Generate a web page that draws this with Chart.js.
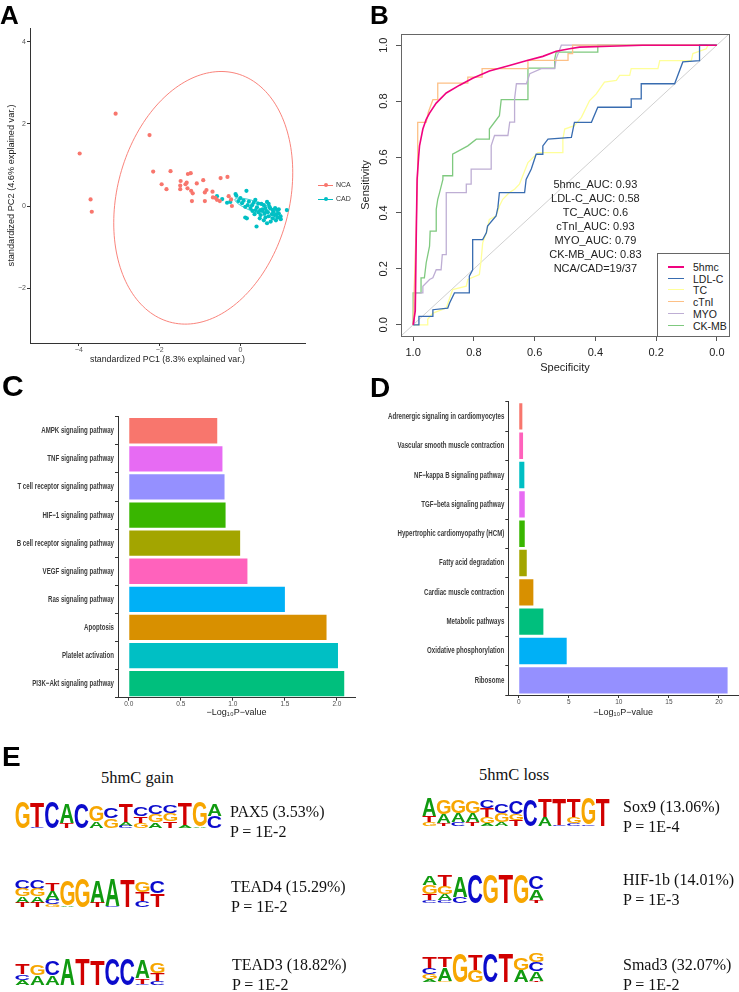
<!DOCTYPE html>
<html>
<head>
<meta charset="utf-8">
<script src="https://cdn.jsdelivr.net/npm/chart.js@4.4.1/dist/chart.umd.min.js"></script>
<style>
  body { margin: 0; width: 739px; height: 992px; position: relative; background: #fff; overflow: hidden; font-family: 'Liberation Sans', Arial, sans-serif; }
  canvas, .abs { position: absolute; }
  .tag { position: absolute; font: bold 26px 'Liberation Sans', Arial, sans-serif; line-height: 26px; color: #000; }
  .serif { position: absolute; font-family: 'Liberation Serif', 'Times New Roman', serif; font-size: 16px; line-height: 20px; color: #111; white-space: nowrap; }
  .lgA { position: absolute; font-size: 7px; color: #333; line-height: 8px; }
  #rocLegend { position: absolute; left: 657px; top: 253px; width: 71px; height: 82px; border: 1px solid #666; background: #fff; font-size: 10.5px; color: #222; }
  #rocLegend div { position: absolute; left: 35px; line-height: 12px; }
  #rocLegend span { position: absolute; left: 10px; width: 16px; height: 0; }
</style>
</head>
<body>
<canvas id="pca" width="370" height="370" style="left:0;top:0"></canvas>
<canvas id="roc" width="384" height="380" style="left:355px;top:0"></canvas>
<canvas id="keggGain" width="370" height="345" style="left:0;top:380px"></canvas>
<canvas id="keggLoss" width="369" height="345" style="left:370px;top:380px"></canvas>
<canvas id="logos" width="739" height="202" style="left:0;top:790px"></canvas>

<div class="tag" style="left:0;top:2px">A</div>
<div class="tag" style="left:370px;top:2px">B</div>
<div class="tag" style="left:2px;top:371px;font-size:30px;line-height:30px">C</div>
<div class="tag" style="left:370px;top:374px;font-size:28px;line-height:28px">D</div>
<div class="tag" style="left:2px;top:743px;font-size:28px;line-height:28px">E</div>

<div id="legendA"></div>
<div id="rocLegend"></div>
<div id="motifText"></div>

<script>
// ---------- A: PCA ----------
const ncaPoints = [
  [-3.98, 1.28], [-3.09, 2.25], [-2.25, 1.73], [-3.71, 0.16], [-3.68, -0.14],
  [-2.16, 0.84], [-1.73, 0.85], [-1.95, 0.53], [-1.83, 0.41], [-1.48, 0.61],
  [-1.49, 0.50], [-1.49, 0.41], [-1.30, 0.78], [-1.23, 0.80], [-1.36, 0.53],
  [-1.33, 0.57], [-1.31, 0.43], [-1.22, 0.37], [-1.18, 0.31], [-1.20, 0.12],
  [-1.08, 0.55], [-0.92, 0.63], [-0.88, 0.33], [-0.84, 0.39], [-0.88, 0.12],
  [-0.69, 0.35], [-0.68, 0.21], [-0.58, 0.15], [-0.49, 0.68], [-0.32, 0.71],
  [-0.51, 0.12], [-0.29, 0.24], [-0.21, 0.00], [-0.23, 0.16], [-0.62, 0.20]
];
const cadPoints = [
  [-0.58, 0.24], [-0.45, 0.17], [-0.33, 0.08], [-0.25, 0.10], [-0.12, 0.29], [-0.10, 0.25],
  [0.00, 0.19], [0.15, 0.37], [0.04, 0.07], [0.12, -0.02], [0.21, 0.11], [0.29, 0.02],
  [0.37, 0.15], [0.41, -0.03], [0.49, -0.10], [0.58, 0.02], [0.66, 0.10], [0.74, -0.06],
  [0.82, -0.14], [0.91, -0.10], [0.95, -0.08], [0.99, -0.26], [1.15, -0.10], [0.40, -0.50],
  [0.66, -0.42], [0.12, -0.28], [0.16, -0.30], [0.30, -0.12], [0.35, -0.20], [0.45, -0.15],
  [0.50, -0.22], [0.55, -0.08], [0.60, -0.18], [0.62, -0.28], [0.68, -0.15], [0.70, -0.25],
  [0.72, -0.02], [0.78, -0.20], [0.80, -0.30], [0.85, -0.22], [0.88, -0.35], [0.92, -0.28],
  [0.95, -0.18], [1.00, -0.32], [0.52, 0.05], [0.44, 0.06], [0.33, 0.08], [0.25, -0.05],
  [0.62, -0.05], [0.75, -0.38], [0.58, -0.35], [0.48, -0.30], [0.38, -0.10], [0.86, -0.05],
  [0.70, 0.05], [0.08, 0.13], [-0.05, 0.12], [0.18, 0.02], [0.54, -0.12], [0.64, -0.12],
  [0.80, -0.10], [0.90, -0.20]
];
const pcaGroups = ['NCA', 'CAD'];
const pcaXTicks = [-4, -2, 0];
const pcaYTicks = [-2, 0, 2, 4];
// group ellipses: centre, semi-axes, tilt of the major axis from vertical (degrees)
const groupEllipses = [
  { cx: -0.92, cy: 0.20, a: 3.14, b: 2.13, tilt: 15.4, color: '#F8766D' },
  { cx: 0.45, cy: -0.05, a: 0.62, b: 0.13, tilt: 110, color: '#00BFC4' }
];

// ---------- B: ROC ----------
const rocNames = ['5hmc', 'LDL-C', 'TC', 'cTnI', 'MYO', 'CK-MB'];
const rocAuc = [0.93, 0.58, 0.6, 0.93, 0.79, 0.83];
const rocRatio = 'NCA/CAD=19/37';
const roc5hmc = [[1,0],[0.993,0.05],[0.99,0.3],[0.987,0.52],[0.982,0.6],[0.979,0.64],[0.968,0.70],[0.957,0.735],[0.946,0.757],[0.924,0.793],[0.891,0.829],[0.847,0.857],[0.804,0.882],[0.749,0.908],[0.683,0.927],[0.628,0.944],[0.573,0.96],[0.529,0.978],[0.485,0.987],[0.452,0.993],[0.353,0.996],[0.245,1],[0,1]];
const rocLdl = [[1,0],[0.981,0],[0.981,0.03],[0.935,0.03],[0.935,0.054],[0.886,0.06],[0.88,0.078],[0.864,0.114],[0.815,0.114],[0.815,0.174],[0.804,0.197],[0.804,0.305],[0.771,0.305],[0.759,0.329],[0.755,0.353],[0.727,0.389],[0.721,0.419],[0.716,0.473],[0.633,0.473],[0.628,0.52],[0.611,0.557],[0.595,0.61],[0.573,0.61],[0.573,0.64],[0.556,0.664],[0.479,0.67],[0.469,0.724],[0.413,0.724],[0.392,0.778],[0.282,0.778],[0.282,0.808],[0.249,0.808],[0.249,0.862],[0.139,0.862],[0.112,0.94],[0.057,0.945],[0.057,1],[0,1]];
const rocTc = [[1,0],[0.952,0],[0.952,0.02],[0.935,0.042],[0.891,0.06],[0.87,0.126],[0.825,0.138],[0.82,0.162],[0.782,0.18],[0.776,0.233],[0.771,0.293],[0.759,0.329],[0.749,0.377],[0.727,0.389],[0.716,0.425],[0.705,0.449],[0.683,0.473],[0.666,0.485],[0.65,0.503],[0.622,0.58],[0.589,0.616],[0.507,0.616],[0.507,0.664],[0.501,0.70],[0.469,0.712],[0.446,0.742],[0.419,0.802],[0.397,0.826],[0.37,0.868],[0.331,0.874],[0.32,0.892],[0.287,0.892],[0.282,0.916],[0.194,0.916],[0.188,0.945],[0.084,0.945],[0.079,0.97],[0.035,0.987],[0.029,1],[0,1]];
const rocCtni = [[1,0],[0.99,0.35],[0.985,0.55],[0.985,0.724],[0.957,0.724],[0.95,0.76],[0.935,0.805],[0.919,0.805],[0.919,0.864],[0.82,0.864],[0.82,0.886],[0.773,0.886],[0.773,0.916],[0.622,0.916],[0.622,0.946],[0.49,0.946],[0.49,0.97],[0.475,0.97],[0.475,1],[0,1]];
const rocMyo = [[1,0],[0.996,0],[0.996,0.06],[0.992,0.114],[0.968,0.114],[0.968,0.138],[0.946,0.162],[0.935,0.168],[0.924,0.197],[0.908,0.197],[0.904,0.251],[0.891,0.251],[0.891,0.473],[0.825,0.473],[0.825,0.503],[0.809,0.503],[0.809,0.557],[0.743,0.557],[0.743,0.641],[0.732,0.677],[0.688,0.677],[0.682,0.725],[0.666,0.725],[0.666,0.808],[0.66,0.862],[0.627,0.862],[0.616,0.898],[0.578,0.916],[0.534,0.916],[0.529,0.952],[0.512,1],[0,1]];
const rocCkmb = [[1,0],[1,0.114],[0.974,0.114],[0.974,0.168],[0.963,0.168],[0.957,0.222],[0.946,0.281],[0.944,0.335],[0.924,0.335],[0.924,0.413],[0.919,0.449],[0.913,0.473],[0.902,0.52],[0.902,0.533],[0.87,0.533],[0.87,0.61],[0.82,0.64],[0.792,0.664],[0.749,0.664],[0.749,0.70],[0.716,0.748],[0.71,0.805],[0.622,0.805],[0.622,0.918],[0.534,0.918],[0.534,0.95],[0.529,0.975],[0.392,0.975],[0.392,1],[0,1]];
const rocTicks = [0, 0.2, 0.4, 0.6, 0.8, 1.0];

// ---------- C / D: KEGG ----------
const gainPathways = ['AMPK signaling pathway', 'TNF signaling pathway', 'T cell receptor signaling pathway', 'HIF\u22121 signaling pathway', 'B cell receptor signaling pathway', 'VEGF signaling pathway', 'Ras signaling pathway', 'Apoptosis', 'Platelet activation', 'PI3K\u2212Akt signaling pathway'];
const gainLogP = [0.85, 0.90, 0.92, 0.93, 1.07, 1.14, 1.50, 1.90, 2.01, 2.07];
const gainTicks = [0, 0.5, 1.0, 1.5, 2.0];
const lossPathways = ['Adrenergic signaling in cardiomyocytes', 'Vascular smooth muscle contraction', 'NF\u2212kappa B signaling pathway', 'TGF\u2212beta signaling pathway', 'Hypertrophic cardiomyopathy (HCM)', 'Fatty acid degradation', 'Cardiac muscle contraction', 'Metabolic pathways', 'Oxidative phosphorylation', 'Ribosome'];
const lossLogP = [0.36, 0.43, 0.56, 0.60, 0.60, 0.80, 1.46, 2.46, 4.79, 20.86];
const lossTicks = [0, 5, 10, 15, 20];

// ---------- E: motifs ----------
const motifGain = ['PAX5 (3.53%)', 'TEAD4 (15.29%)', 'TEAD3 (18.82%)'];
const motifGainP = ['1E-2', '1E-2', '1E-2'];
const motifLoss = ['Sox9 (13.06%)', 'HIF-1b (14.01%)', 'Smad3 (32.07%)'];
const motifLossP = ['1E-4', '1E-3', '1E-2'];
// letter stacks per column, top to bottom, [base, share of full height]
const logoPax5 = [[['G',.95]],[['T',.9],['C',.05]],[['C',.95]],[['A',.72],['T',.18]],[['C',.92]],[['G',.6],['A',.25]],[['C',.4],['G',.35]],[['T',.65],['A',.15],['C',.08]],[['C',.35],['T',.25],['G',.2]],[['C',.35],['G',.3],['A',.2]],[['C',.3],['G',.3],['T',.25]],[['T',.8],['A',.1]],[['G',.9],['A',.05]],[['A',.45],['C',.45]]];
const logoTead4 = [[['C',.3],['G',.25],['A',.2],['T',.15]],[['C',.3],['G',.25],['A',.2],['T',.15]],[['T',.25],['A',.3],['C',.15],['G',.1]],[['G',.85],['A',.05]],[['G',.95]],[['A',.75],['T',.15]],[['A',.9],['C',.05]],[['T',.92]],[['G',.35],['T',.3],['C',.2]],[['C',.4],['T',.45]]];
const logoTead3 = [[['T',.4],['C',.2],['A',.2]],[['G',.4],['A',.35]],[['C',.55],['A',.35]],[['A',.95]],[['T',.95]],[['T',.9]],[['C',.95]],[['C',.95]],[['A',.65],['T',.2],['C',.05]],[['G',.4],['T',.3],['C',.15]]];
const logoSox9 = [[['A',.6],['T',.2],['G',.15]],[['G',.5],['A',.3],['T',.1]],[['G',.45],['A',.3],['C',.15]],[['G',.4],['A',.3],['T',.15]],[['C',.25],['T',.3],['G',.2],['A',.1]],[['C',.3],['G',.3],['A',.15]],[['C',.45],['G',.2],['T',.2]],[['C',.9]],[['T',.6],['A',.3]],[['T',.9],['C',.05]],[['T',.6],['G',.2],['C',.1]],[['G',.9],['C',.05]],[['T',.95]]];
const logoHif1b = [[['A',.3],['G',.3],['T',.2],['C',.1]],[['T',.4],['G',.25],['A',.2],['C',.1]],[['A',.7],['C',.2]],[['C',.95]],[['G',.95]],[['T',.95]],[['G',.95]],[['C',.45],['A',.35],['T',.1]]];
const logoSmad3 = [[['T',.4],['C',.2],['G',.15],['A',.1]],[['T',.35],['A',.45],['G',.05]],[['G',.95]],[['T',.5],['G',.4]],[['C',.95]],[['T',.95]],[['G',.4],['A',.4]],[['G',.3],['C',.3],['A',.3],['T',.05]]];

Chart.defaults.font.family = "'Liberation Sans', Arial, sans-serif";
Chart.defaults.animation = false;
Chart.defaults.responsive = false;
Chart.defaults.plugins.legend.display = false;
Chart.defaults.plugins.tooltip.enabled = false;

const hue = { red: '#F8766D', orange: '#D89000', olive: '#A3A500', green: '#39B600', jade: '#00BF7D', cyan: '#00BFC4', blue: '#00B0F6', violet: '#9590FF', magenta: '#E76BF3', pink: '#FF62BC' };
const fixTicks = list => axis => { axis.ticks = list.map(v => ({ value: v })); };

// ---------- A ----------
const ellipsePlugin = {
  id: 'groupEllipses',
  beforeDatasetsDraw(chart) {
    const { ctx, scales: { x, y }, chartArea } = chart;
    ctx.save();
    ctx.beginPath();
    ctx.rect(chartArea.left, chartArea.top, chartArea.width, chartArea.height);
    ctx.clip();
    groupEllipses.forEach(e => {
      const t = e.tilt * Math.PI / 180;
      ctx.beginPath();
      for (let i = 0; i <= 180; i++) {
        const u = i / 180 * Math.PI * 2;
        const dx = e.a * Math.cos(u) * Math.sin(t) + e.b * Math.sin(u) * Math.cos(t);
        const dy = e.a * Math.cos(u) * Math.cos(t) - e.b * Math.sin(u) * Math.sin(t);
        const px = x.getPixelForValue(e.cx + dx), py = y.getPixelForValue(e.cy + dy);
        i ? ctx.lineTo(px, py) : ctx.moveTo(px, py);
      }
      ctx.strokeStyle = e.color;
      ctx.lineWidth = 0.9;
      ctx.stroke();
    });
    ctx.restore();
  }
};

const ggAxis = {
  grid: { drawOnChartArea: false, tickLength: 3, tickColor: '#333', color: '#333' },
  border: { display: true, color: '#333', width: 1 }
};

new Chart(document.getElementById('pca'), {
  type: 'scatter',
  data: {
    datasets: [
      { label: pcaGroups[0], data: ncaPoints.map(([x, y]) => ({ x, y })), backgroundColor: '#F8766D', borderWidth: 0, pointRadius: 2.1 },
      { label: pcaGroups[1], data: cadPoints.map(([x, y]) => ({ x, y })), backgroundColor: '#00BFC4', borderWidth: 0, pointRadius: 2.1 }
    ]
  },
  options: {
    layout: { padding: { top: 28, right: 65, left: 0, bottom: 0 } },
    scales: {
      x: {
        type: 'linear', min: -5.21, max: 1.6, afterBuildTicks: fixTicks(pcaXTicks), ...ggAxis,
        ticks: { font: { size: 7 }, color: '#555', padding: 0, callback: v => String(v).replace('-', '\u2212') },
        title: { display: true, text: 'standardized PC1 (8.3% explained var.)', font: { size: 8.8 }, color: '#222', padding: { top: 0, bottom: 5 } },
        afterFit(s) { s.height = 27; }
      },
      y: {
        type: 'linear', min: -3.34, max: 4.34, afterBuildTicks: fixTicks(pcaYTicks), ...ggAxis,
        ticks: { font: { size: 7 }, color: '#555', padding: 1, callback: v => String(v).replace('-', '\u2212') },
        title: { display: true, text: 'standardized PC2 (4.6% explained var.)', font: { size: 9.2 }, color: '#222', padding: { top: 6, bottom: 0 } },
        afterFit(s) { s.width = 30; }
      }
    }
  },
  plugins: [ellipsePlugin]
});

document.getElementById('legendA').innerHTML = pcaGroups.map((g, i) => {
  const c = i ? '#00BFC4' : '#F8766D', top = i ? 199 : 185;
  return `<div class="abs" style="left:318px;top:${top - 0.5}px;width:15px;height:1px;background:${c}"></div>` +
    `<div class="abs" style="left:323.5px;top:${top - 2}px;width:4px;height:4px;border-radius:50%;background:${c}"></div>` +
    `<div class="lgA" style="left:336px;top:${top - 4}px">${g}</div>`;
}).join('');

// ---------- B ----------
const rocColors = ['#F0027F', '#386CB0', '#FFFF99', '#FDC086', '#BEAED4', '#7FC97F'];
const rocSeries = [roc5hmc, rocLdl, rocTc, rocCtni, rocMyo, rocCkmb];

const rocPlugin = {
  id: 'rocExtras',
  afterDraw(chart) {
    const { ctx, chartArea: a, scales: { x, y } } = chart;
    ctx.save();
    ctx.strokeStyle = '#666';
    ctx.lineWidth = 1;
    ctx.strokeRect(a.left + 0.5, a.top + 0.5, a.width, a.height);
    ctx.fillStyle = '#222';
    ctx.font = "11px 'Liberation Sans', Arial";
    ctx.textAlign = 'center';
    ctx.textBaseline = 'middle';
    rocTicks.forEach(v => {
      ctx.save();
      ctx.translate(a.left - 17.5, y.getPixelForValue(v));
      ctx.rotate(-Math.PI / 2);
      ctx.fillText(v.toFixed(1), 0, 0);
      ctx.restore();
    });
    const lines = rocNames.map((n, i) => `${n}_AUC: ${rocAuc[i]}`).concat([rocRatio]);
    lines.forEach((t, i) => ctx.fillText(t, x.getPixelForValue(0.4), y.getPixelForValue(0.5 - i * 0.05)));
    ctx.restore();
  }
};

new Chart(document.getElementById('roc'), {
  type: 'scatter',
  data: {
    datasets: rocSeries.map((s, i) => ({
      label: rocNames[i], data: s.map(([x, y]) => ({ x, y })), showLine: true, pointRadius: 0,
      borderColor: rocColors[i], borderWidth: i === 0 ? 1.6 : 1.3, tension: 0
    })).concat([{
      label: 'chance', data: [{ x: 1.04, y: -0.04 }, { x: -0.04, y: 1.04 }], showLine: true, pointRadius: 0,
      borderColor: '#bbb', borderWidth: 0.7
    }])
  },
  options: {
    layout: { padding: { top: 34, right: 10, left: 0, bottom: 0 } },
    scales: {
      x: {
        type: 'linear', reverse: true, min: -0.04, max: 1.04, afterBuildTicks: fixTicks(rocTicks),
        grid: { drawOnChartArea: false, tickLength: 5, tickColor: '#555' }, border: { display: false },
        ticks: { font: { size: 11 }, color: '#222', padding: 5, callback: v => v.toFixed(1) },
        title: { display: true, text: 'Specificity', font: { size: 11 }, color: '#222', padding: { top: 0, bottom: 5 } },
        afterFit(s) { s.height = 44; }
      },
      y: {
        type: 'linear', min: -0.04, max: 1.04, afterBuildTicks: fixTicks(rocTicks),
        grid: { drawOnChartArea: false, tickLength: 5, tickColor: '#555' }, border: { display: false },
        ticks: { display: false },
        title: { display: true, text: 'Sensitivity', font: { size: 11 }, color: '#222', padding: { top: 4, bottom: 0 } },
        afterFit(s) { s.width = 46; }
      }
    }
  },
  plugins: [rocPlugin]
});

document.getElementById('rocLegend').innerHTML = rocNames.map((n, i) => {
  const cy = 13 + i * 11.7;
  return `<span style="top:${cy - 1}px;border-top:${i === 0 ? 2 : 1.5}px solid ${rocColors[i]}"></span><div style="top:${cy - 6}px">${n}</div>`;
}).join('');

// ---------- C / D ----------
const gainColors = [hue.red, hue.magenta, hue.violet, hue.green, hue.olive, hue.pink, hue.blue, hue.orange, hue.cyan, hue.jade];
const lossColors = [hue.red, hue.pink, hue.cyan, hue.magenta, hue.green, hue.olive, hue.orange, hue.jade, hue.blue, hue.violet];

// category labels are set in a condensed bold face, squeezed horizontally
const condensedLabels = {
  id: 'condensedLabels',
  afterDraw(chart) {
    const { ctx, chartArea: a, scales: { y } } = chart;
    ctx.save();
    ctx.font = "bold 9px 'Liberation Sans', Arial";
    ctx.fillStyle = '#3a3a3a';
    ctx.textAlign = 'right';
    ctx.textBaseline = 'middle';
    chart.data.labels.forEach((lab, i) => {
      ctx.save();
      ctx.translate(a.left - 4, y.getPixelForTick(i));
      ctx.scale(0.68, 1);
      ctx.fillText(lab, 0, 0);
      ctx.restore();
    });
    ctx.restore();
  }
};

function keggChart(id, labels, values, colors, min, max, ticks, fmt, pad, yWidth, xHeight) {
  new Chart(document.getElementById(id), {
    type: 'bar',
    data: { labels, datasets: [{ data: values, backgroundColor: colors, barPercentage: 0.9, categoryPercentage: 1, borderWidth: 0 }] },
    options: {
      indexAxis: 'y',
      layout: { padding: pad },
      scales: {
        x: {
          type: 'linear', min, max, afterBuildTicks: fixTicks(ticks), ...ggAxis,
          ticks: { font: { size: 6.5 }, color: '#4d4d4d', padding: 0, callback: fmt },
          title: { display: true, text: '\u2212Log\u2081\u2080P\u2212value', font: { size: 9 }, color: '#222', padding: { top: 0, bottom: 7 } },
          afterFit(s) { s.height = xHeight; }
        },
        y: {
          ...ggAxis,
          ticks: { display: false },
          afterFit(s) { s.width = yWidth; }
        }
      }
    },
    plugins: [condensedLabels]
  });
}
keggChart('keggGain', gainPathways, gainLogP, gainColors, -0.1035, 2.1735, gainTicks, v => v.toFixed(1),
  { top: 36.7, right: 15, left: 0, bottom: 0 }, 118, 27.3);
keggChart('keggLoss', lossPathways, lossLogP, lossColors, -1.043, 21.9, lossTicks, v => String(v),
  { top: 21.7, right: 1, left: 0, bottom: 0 }, 138.3, 30);

// ---------- E ----------
const baseColor = { A: '#109A10', C: '#0B0BCC', G: '#F7A600', T: '#D10000' };
const logoBoxes = [
  { cols: logoPax5, x: 15, y: 801, w: 207, h: 27 },
  { cols: logoTead4, x: 15, y: 877, w: 150, h: 30 },
  { cols: logoTead3, x: 15, y: 958, w: 150, h: 27 },
  { cols: logoSox9, x: 422, y: 797, w: 188, h: 29 },
  { cols: logoHif1b, x: 422, y: 873, w: 122, h: 30 },
  { cols: logoSmad3, x: 422, y: 952, w: 122, h: 30 }
];
(function drawLogos() {
  const cv = document.getElementById('logos'), ctx = cv.getContext('2d'), top = 790;
  ctx.font = "bold 100px 'Liberation Sans', Arial";
  ctx.textBaseline = 'alphabetic';
  logoBoxes.forEach(box => {
    const cw = box.w / box.cols.length;
    box.cols.forEach((stack, ci) => {
      const total = stack.reduce((s, [, f]) => s + f, 0);
      let yy = box.y - top + box.h * (1 - total);
      stack.forEach(([ch, f]) => {
        const lh = f * box.h, m = ctx.measureText(ch);
        const gw = m.actualBoundingBoxLeft + m.actualBoundingBoxRight;
        const gh = m.actualBoundingBoxAscent + m.actualBoundingBoxDescent;
        ctx.save();
        ctx.translate(box.x + ci * cw + cw * 0.03, yy);
        ctx.scale(cw * 0.94 / gw, lh / gh);
        ctx.fillStyle = baseColor[ch];
        ctx.fillText(ch, m.actualBoundingBoxLeft, m.actualBoundingBoxAscent);
        ctx.restore();
        yy += lh;
      });
    });
  });
})();

const textTops = [802, 877, 955];
const lossTops = [797, 870, 955];
const gainLeft = [230, 231, 232];
let html = `<div class="serif" style="left:101px;top:767px;font-size:16.5px;line-height:22px">5hmC gain</div>` +
  `<div class="serif" style="left:479px;top:764px;font-size:16.5px;line-height:22px">5hmC loss</div>`;
motifGain.forEach((m, i) => { html += `<div class="serif" style="left:${gainLeft[i]}px;top:${textTops[i]}px">${m}<br>P = ${motifGainP[i]}</div>`; });
motifLoss.forEach((m, i) => { html += `<div class="serif" style="left:623px;top:${lossTops[i]}px">${m}<br>P = ${motifLossP[i]}</div>`; });
document.getElementById('motifText').innerHTML = html;
</script>
</body>
</html>
